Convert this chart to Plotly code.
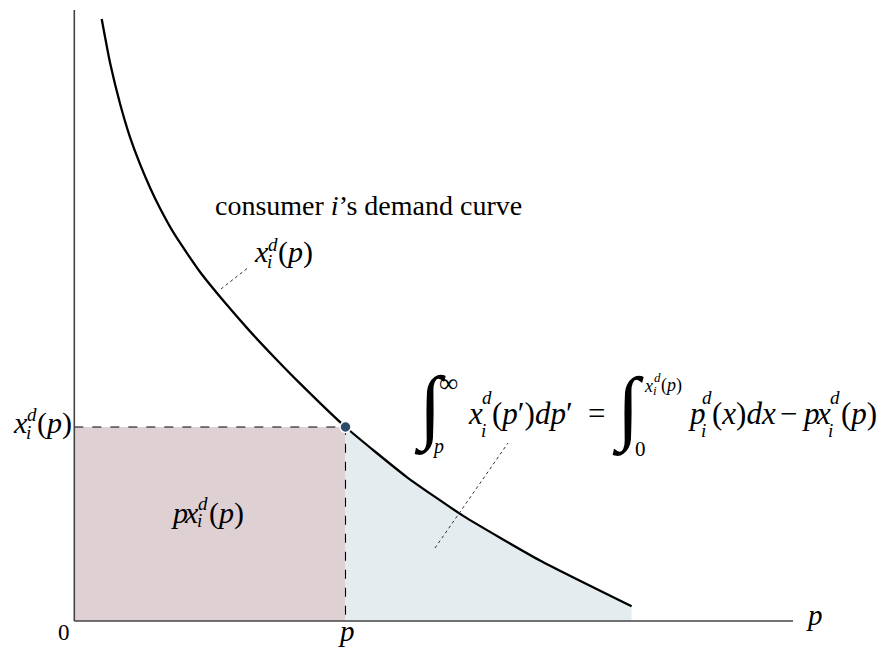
import plotly.graph_objects as go

# ---------------- data ----------------
price = [0.101, 0.132, 0.169, 0.205, 0.242, 0.279, 0.316, 0.371, 0.463, 0.556,
         0.648, 0.740, 0.832, 1.000, 1.226, 1.434, 1.717, 2.055]
demand = [3.103, 2.876, 2.665, 2.496, 2.356, 2.235, 2.128, 1.990, 1.800, 1.640,
          1.493, 1.356, 1.225, 1.000, 0.742, 0.542, 0.312, 0.076]
p_star = 1.0          # chosen price p
x_star = 1.0          # demand x_i^d(p) at that price
x_axis_max = 2.65
y_axis_max = 3.149

tick_labels = ["0", "<i>p</i>"]
axis_title = "<i>p</i>"
curve_title = "consumer <i>i</i>’s demand curve"

# ---------------- style ----------------
PAGE_W, PAGE_H = 888, 654
BODY = 8                       # default page margin around the figure
W, H = PAGE_W - BODY, PAGE_H - BODY
X0, Y0 = 74.3, 621.0           # screen pixel position of the origin
SX, SY = 271.2, 194.0          # pixels per data unit
SERIF = "Liberation Serif"
INTEGRAL_FONT = "Noto Sans"
RED_FILL = "#dfd0d4"
BLUE_FILL = "#e4ecf0"
DOT = "#2d4b6b"
AXIS = "#444444"


def px2x(px):
    return (px - X0) / SX


def py2y(py):
    return (Y0 - py) / SY


fig = go.Figure()

# red rectangle  p * x_i^d(p)
fig.add_trace(go.Scatter(x=[0, p_star], y=[x_star, x_star], mode="lines",
                         line=dict(width=0), fill="tozeroy", fillcolor=RED_FILL,
                         hoverinfo="skip", showlegend=False))

# blue area under the demand curve to the right of p
bp = [p for p in price if p >= p_star]
bx = [d for p, d in zip(price, demand) if p >= p_star]
fig.add_trace(go.Scatter(x=bp, y=bx, mode="lines",
                         line=dict(width=0, shape="spline", smoothing=0.5),
                         fill="tozeroy", fillcolor=BLUE_FILL, hoverinfo="skip", showlegend=False))

# dashed guides
fig.add_trace(go.Scatter(x=[0, p_star, p_star], y=[x_star, x_star, 0], mode="lines",
                         line=dict(color="black", width=1.1, dash="dash"),
                         hoverinfo="skip", showlegend=False))

# axes
fig.add_trace(go.Scatter(x=[0, x_axis_max], y=[0, 0], mode="lines",
                         line=dict(color=AXIS, width=1.6), hoverinfo="skip", showlegend=False))
fig.add_trace(go.Scatter(x=[0, 0], y=[0, y_axis_max], mode="lines",
                         line=dict(color=AXIS, width=1.6), hoverinfo="skip", showlegend=False))

# demand curve
fig.add_trace(go.Scatter(x=price, y=demand, mode="lines",
                         line=dict(color="black", width=2.3, shape="spline", smoothing=0.5),
                         hoverinfo="skip", showlegend=False))

# point (p, x_i^d(p))
fig.add_trace(go.Scatter(x=[p_star], y=[x_star], mode="markers",
                         marker=dict(size=11, color=DOT, line=dict(color="white", width=1.5)),
                         hoverinfo="skip", showlegend=False))


def put(text, left, base, size, anchor="left"):
    fig.add_annotation(x=px2x(left), y=py2y(base - 0.3375 * size), text=text,
                       xanchor=anchor, yanchor="middle", showarrow=False, borderpad=0,
                       font=dict(family=SERIF, size=size, color="black"))


def put_mid(text, left, mid, size, family=SERIF):
    fig.add_annotation(x=px2x(left), y=py2y(mid), text=text, xanchor="left",
                       yanchor="middle", showarrow=False, borderpad=0,
                       font=dict(family=family, size=size, color="black"))


def leader(p1, p2):
    fig.add_shape(type="line", x0=px2x(p1[0]), y0=py2y(p1[1]), x1=px2x(p2[0]), y1=py2y(p2[1]),
                  xref="x", yref="y", line=dict(color="#333333", width=1, dash="dot"))


# tick labels and axis title
put(tick_labels[0], 57, 640, 23)
put(tick_labels[1], 337, 641, 29)
put(axis_title, 805, 625, 29)

# x_i^d(p) on the y axis
put("<i>x</i>", 12, 433, 30); put("<i>d</i>", 26, 421, 19); put("<i>i</i>", 25, 439, 19)
put("(<i>p</i>)", 36, 433, 30)

# curve title
put(curve_title, 368.5, 215, 28, anchor="center")
put("<i>x</i>", 253, 262, 30); put("<i>d</i>", 267, 251, 19); put("<i>i</i>", 266, 268, 19)
put("(<i>p</i>)", 277, 262, 30)
leader((221, 289), (249, 267))

# p x_i^d(p) in the rectangle
put("<i>p</i>", 170, 523, 30); put("<i>x</i>", 183, 523, 30)
put("<i>d</i>", 197, 510, 19); put("<i>i</i>", 196, 527, 19)
put("(<i>p</i>)", 208, 523, 30)

# the equation
B = 424
put_mid("∫", 413, 401, 82, INTEGRAL_FONT)
put("∞", 438, 392, 27)
put("<i>p</i>", 431, 453, 20)
put("<i>x</i>", 467, B, 31); put("<i>d</i>", 481, 404, 19); put("<i>i</i>", 480, 437, 19)
put("(<i>p</i>′)<i>dp</i>′", 491, B, 31)
put("=", 587, B, 31)
put_mid("∫", 611, 402, 82, INTEGRAL_FONT)
put("<i>x</i>", 643, 392, 18); put("<i>d</i>", 653, 382, 13); put("<i>i</i>", 652, 395, 13)
put("(<i>p</i>)", 660, 392, 18)
put("0", 634, 456, 21)
put("<i>p</i>", 687, B, 31); put("<i>d</i>", 701, 404, 19); put("<i>i</i>", 700, 437, 19)
put("(<i>x</i>)<i>dx</i>", 711, B, 31)
put("−", 779, B, 31)
put("<i>p</i>", 801, B, 31); put("<i>x</i>", 815, B, 31)
put("<i>d</i>", 829, 404, 19); put("<i>i</i>", 827, 437, 19)
put("(<i>p</i>)", 840, B, 31)
leader((435, 548), (508, 443))

fig.update_layout(
    width=W, height=H, autosize=False,
    margin=dict(l=0, r=0, t=0, b=0),
    paper_bgcolor="white", plot_bgcolor="white",
    xaxis=dict(range=[px2x(BODY), px2x(PAGE_W)], visible=False, fixedrange=True),
    yaxis=dict(range=[py2y(PAGE_H), py2y(BODY)], visible=False, fixedrange=True),
    showlegend=False,
)

fig.write_html("out.html")
